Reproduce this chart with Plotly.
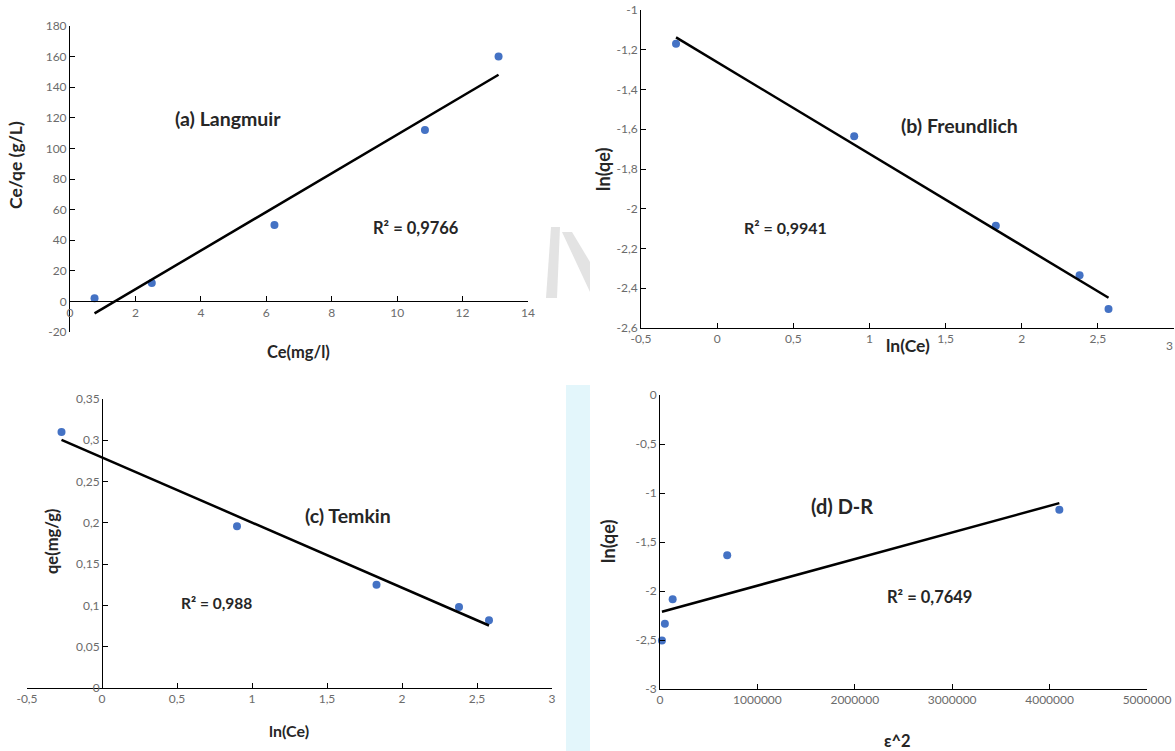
import numpy as np
import plotly.graph_objects as go

W, H = 1175, 751

# ---------------- data ----------------
lang_ce = [0.75, 2.5, 6.25, 10.85, 13.1]
lang_ceqe = [2, 12, 50, 112, 160]

freu_lnce = [-0.27, 0.9, 1.83, 2.38, 2.57]
freu_lnqe = [-1.17, -1.635, -2.085, -2.335, -2.505]

temk_lnce = [-0.27, 0.9, 1.83, 2.38, 2.58]
temk_qe = [0.31, 0.196, 0.125, 0.098, 0.082]

dr_eps2 = [20000, 50000, 130000, 690000, 4100000]
dr_lnqe = [-2.505, -2.335, -2.085, -1.635, -1.17]

r2_labels = ["R\u00b2 = 0,9766", "R\u00b2 = 0,9941", "R\u00b2 = 0,988", "R\u00b2 = 0,7649"]
panel_titles = ["(a) Langmuir", "(b) Freundlich", "(c) Temkin", "(d) D-R"]

ticks_a_x = [0, 2, 4, 6, 8, 10, 12, 14]
ticks_a_y = [-20, 0, 20, 40, 60, 80, 100, 120, 140, 160, 180]
ticks_b_x = [-0.5, 0, 0.5, 1, 1.5, 2, 2.5, 3]
ticks_b_y = [-2.6, -2.4, -2.2, -2, -1.8, -1.6, -1.4, -1.2, -1]
ticks_c_x = [-0.5, 0, 0.5, 1, 1.5, 2, 2.5, 3]
ticks_c_y = [0, 0.05, 0.1, 0.15, 0.2, 0.25, 0.3, 0.35]
ticks_d_x = [0, 1000000, 2000000, 3000000, 4000000, 5000000]
ticks_d_y = [-3, -2.5, -2, -1.5, -1, -0.5, 0]


def fmt(v):
    s = f"{round(v, 6):.10g}"
    return s.replace(".", ",")


def PX(px):
    return px / W


def PY(py):
    return 1 - py / H


BLUE = "#4472C4"
FAM = "Lato, Open Sans, sans-serif"
TICKFONT = dict(family=FAM, size=12, color="#6b6b6b")
DARK = "#262626"

fig = go.Figure()

panels = [
    (lang_ce, lang_ceqe, "x", "y"),
    (freu_lnce, freu_lnqe, "x2", "y2"),
    (temk_lnce, temk_qe, "x3", "y3"),
    (dr_eps2, dr_lnqe, "x4", "y4"),
]
for xs, ys, xa, ya in panels:
    fig.add_trace(go.Scatter(x=xs, y=ys, mode="markers", xaxis=xa, yaxis=ya,
                             marker=dict(color=BLUE, size=8), showlegend=False,
                             hoverinfo="x+y", cliponaxis=False))
    k, b = np.polyfit(np.array(xs, float), np.array(ys, float), 1)
    xe = np.array([min(xs), max(xs)], float)
    fig.add_trace(go.Scatter(x=xe, y=k * xe + b, mode="lines", xaxis=xa, yaxis=ya,
                             line=dict(color="black", width=2.5), showlegend=False,
                             hoverinfo="skip", cliponaxis=False))


def axis(domain, rng, ticks, **kw):
    d = dict(domain=domain, range=rng, tickmode="array", tickvals=ticks,
             ticktext=[fmt(t) for t in ticks], showgrid=False, zeroline=False,
             showline=True, linecolor="black", linewidth=1, ticks="inside",
             ticklen=5, tickcolor="black", tickfont=TICKFONT, fixedrange=True,
             automargin=False)
    d.update(kw)
    return d


# panel a
xa_dom = [PX(70), PX(528)]
ya_dom = [PY(332), PY(26)]
ya_range = [-20, 180]
xa_pos = ya_dom[0] + (0 - ya_range[0]) / (ya_range[1] - ya_range[0]) * (ya_dom[1] - ya_dom[0])
# panel b
xb_dom = [PX(641), PX(1174)]
yb_dom = [PY(328), PY(10)]
# panel c
xc_dom = [PX(27), PX(552)]
xc_range = [-0.5, 3]
yc_dom = [PY(688), PY(399)]
yc_pos = xc_dom[0] + (0 - xc_range[0]) / (xc_range[1] - xc_range[0]) * (xc_dom[1] - xc_dom[0])
# panel d
xd_dom = [PX(660), PX(1147)]
yd_dom = [PY(689), PY(395)]

fig.update_layout(
    width=W, height=H,
    margin=dict(l=0, r=0, t=0, b=0, autoexpand=False),
    paper_bgcolor="white", plot_bgcolor="rgba(0,0,0,0)",
    showlegend=False,
    xaxis=axis(xa_dom, [0, 14], ticks_a_x, anchor="free", position=xa_pos),
    yaxis=axis(ya_dom, ya_range, ticks_a_y, anchor="x"),
    xaxis2=axis(xb_dom, [-0.5, 3], ticks_b_x, anchor="y2"),
    yaxis2=axis(yb_dom, [-2.6, -1], ticks_b_y, anchor="x2"),
    xaxis3=axis(xc_dom, xc_range, ticks_c_x, anchor="y3"),
    yaxis3=axis(yc_dom, [0, 0.35], ticks_c_y, anchor="free", position=yc_pos),
    xaxis4=axis(xd_dom, [0, 5000000], ticks_d_x, anchor="y4",
                ticktext=[str(int(t)) for t in ticks_d_x]),
    yaxis4=axis(yd_dom, [-3, 0], ticks_d_y, anchor="x4"),
)

shapes = [
    # light blue decorative strip
    dict(type="rect", xref="paper", yref="paper", x0=PX(566), x1=PX(590), y0=0, y1=PY(385),
         fillcolor="#e3f6fb", line=dict(width=0), layer="below"),
    # faint grey watermark
    dict(type="path", xref="paper", yref="paper",
         path=f"M {PX(551)} {PY(227)} L {PX(560)} {PY(227)} L {PX(557)} {PY(298)} L {PX(546)} {PY(298)} Z",
         fillcolor="#e3e3e3", line=dict(width=0), layer="below"),
    dict(type="path", xref="paper", yref="paper",
         path=f"M {PX(562)} {PY(232)} L {PX(572)} {PY(232)} L {PX(590)} {PY(262)} L {PX(590)} {PY(292)} Z",
         fillcolor="#e3e3e3", line=dict(width=0), layer="below"),
]
fig.update_layout(shapes=shapes)

ann = []


def add_text(text, px, py, size, angle=0, color=DARK):
    ann.append(dict(text=text, x=PX(px), y=PY(py), xref="paper", yref="paper",
                    showarrow=False, font=dict(family=FAM, size=size, color=color),
                    textangle=angle, xanchor="center", yanchor="middle"))


# axis titles
add_text("<b>Ce(mg/l)</b>", 298, 352, 16.5)
add_text("<b>Ce/qe (g/L)</b>", 15, 165, 17.5, -90)
add_text("<b>ln(Ce)</b>", 908, 345, 17.5)
add_text("<b>ln(qe)</b>", 603, 170, 18, -90)
add_text("<b>ln(Ce)</b>", 289, 730, 16)
add_text("<b>qe(mg/g)</b>", 52, 542, 16.5, -90)
add_text("<b>\u03b5^2</b>", 897, 741, 16.5)
add_text("<b>ln(qe)</b>", 608, 542, 18, -90)
# edge tick label of panel b (axis value 3 sits on the page edge)
ann.append(dict(text="3", x=1.0, y=PY(346), xref="paper", yref="paper",
                showarrow=False, font=TICKFONT, xanchor="right", yanchor="middle"))

# panel titles and R²
add_text(f"<b>{panel_titles[0]}</b>", 228, 118, 19.5)
add_text(f"<b>{panel_titles[1]}</b>", 959, 126, 19.5)
add_text(f"<b>{panel_titles[2]}</b>", 348, 515, 19.5)
add_text(f"<b>{panel_titles[3]}</b>", 842, 506, 20)
add_text(f"<b>{r2_labels[0]}</b>", 416, 228, 16.5)
add_text(f"<b>{r2_labels[1]}</b>", 785, 227, 16)
add_text(f"<b>{r2_labels[2]}</b>", 216, 603, 15.5)
add_text(f"<b>{r2_labels[3]}</b>", 929, 597, 16.5)

fig.update_layout(annotations=ann)

fig.write_html("out.html",
               config={"displayModeBar": False},
               post_script="document.body.style.margin='0';document.body.style.overflow='hidden';")
